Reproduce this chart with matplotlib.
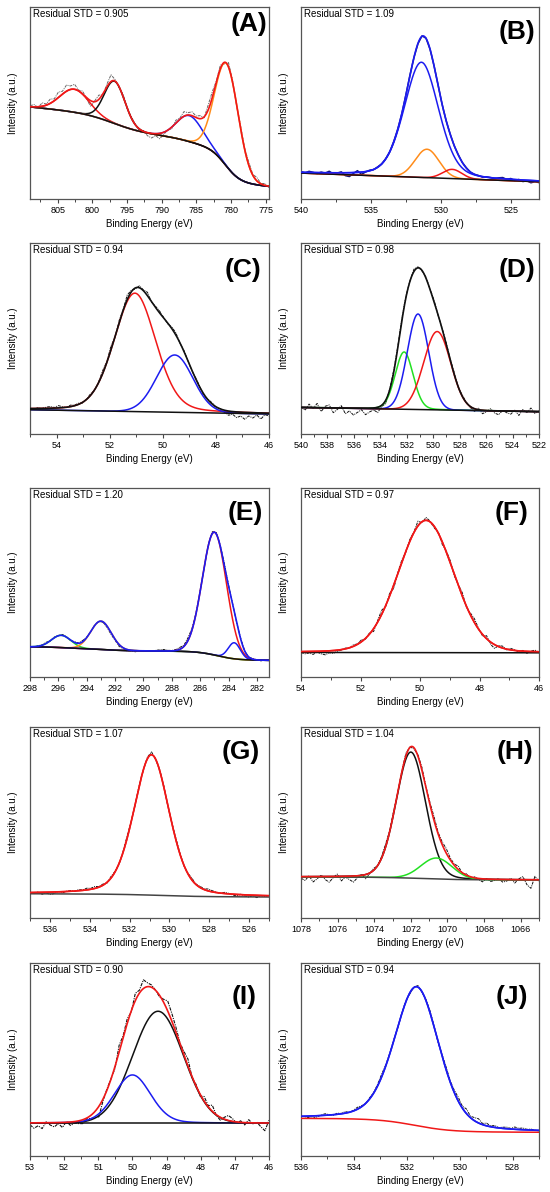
import numpy as np
import matplotlib
matplotlib.use("Agg")
import matplotlib.pyplot as plt
from matplotlib.ticker import AutoMinorLocator

plt.rcParams['font.family'] = ['Liberation Sans', 'DejaVu Sans']

# ---------------- data ----------------
# peaks: centre (eV), height above background (% of frame), FWHM (eV), lorentz fraction
# background: value at low-BE edge, linear rise over window, steps (centre, height, width)

# (A)
a_xlim = (809, 774.5)
a_ticks = [805, 800, 795, 790, 785, 780, 775]
a_std = "0.905"
a_centers = [802.6, 796.8, 786.0, 780.6]
a_heights = [12, 22, 13.5, 53.5]
a_fwhm = [4.9, 3.5, 4.4, 4.0]
a_eta = [0, 0, 0, 0]
a_bg_end = 6.5
a_bg_slope = 12
a_bg_steps = [(780.8, 18, 1.1), (786.0, 3, 1.5), (797.0, 8.5, 2.2)]
a_resid = [0.5, 1.2, -0.4, 1.8, 0.6, 2.2, 1.0, 2.8, 1.5,
           3.2, 1.8, 2.6, 0.4, 1.5, -0.8, -3.0, 0.5, 2.2,
           -0.6, 1.4, 3.5, 0.8, -0.5, 1.2, -0.3, 0.6, 0.2,
           -0.8, 0.4, -1.6, -2.4, -1.0, -2.8, -1.2, 0.3, -0.9,
           1.5, 0.6, 2.4, 1.2, 2.0, 0.8, 1.6, -0.5, 2.6,
           3.0, 0.6, 1.8, -0.8, 2.2, 1.0, -0.4, 1.2, 0.5,
           1.6, 0.4, 1.8, 0.2, 1.0, -0.6]

# (B)
b_xlim = (540, 523)
b_ticks = [540, 535, 530, 525]
b_std = "1.09"
b_centers = [531.4, 531.0, 529.2]
b_heights = [60, 14.8, 4.8]
b_fwhm = [2.9, 2.0, 1.6]
b_eta = [0.25, 0, 0]
b_bg_end = 9.0
b_bg_slope = 4.5
b_bg_steps = []
b_resid = [0.4, -0.3, 0.6, 0.1, -0.5, 0.3, -0.2, 0.8, -0.6, -0.1,
           0.5, -1.5, -2.0, -0.4, 0.9, -1.2, -0.2, 0.3, -0.1, 0.2,
           0.0, 0.1, -0.1, 0.2, 0.0, -0.2, 0.1, 0.3, 0.0, -0.2,
           0.2, 0.1, -0.1, 0.0, 0.2, -0.1, 0.0, 0.1, -0.2, 0.1,
           0.0, 0.2, -0.1, 0.0, 0.1, -0.3, 0.2, 0.0, -0.4, 0.3,
           0.6, -0.2, 0.4, -0.6, 0.2, -0.8, -0.3, -1.2, -0.5, -0.9]

# (C)
c_xlim = (55, 46)
c_ticks = [54, 52, 50, 48, 46]
c_std = "0.94"
c_centers = [51.05, 49.55]
c_heights = [62, 30]
c_fwhm = [1.85, 1.6]
c_eta = [0.2, 0]
c_bg_end = 10.5
c_bg_slope = 2.2
c_bg_steps = []
c_resid = [0.2, -0.3, 0.4, 0.0, 0.6, 0.9, 0.3, 1.2, 0.5, -0.2,
           0.8, 0.3, 0.6, -0.4, 0.2, 0.8, -0.3, 0.5, 1.5, 0.4,
           2.0, -0.5, 1.2, 0.3, 2.4, 0.8, -0.6, 1.0, 0.4, 1.8,
           -0.2, 0.6, 1.0, 0.3, -0.4, 0.8, 1.2, -0.2, 0.5, 0.0,
           -0.4, 0.6, 0.2, -0.8, 0.3, 0.6, -0.5, 0.2, -1.0, -2.2,
           -1.4, -3.0, -2.0, -3.6, -1.8, -2.8, -1.2, -3.2, -0.8, -1.5]

# (D)
d_xlim = (540, 522)
d_ticks = list(range(540, 521, -2))
d_std = "0.98"
d_centers = [532.2, 531.15, 529.7]
d_heights = [30, 50, 41]
d_fwhm = [1.6, 1.9, 2.4]
d_eta = [0.1, 0, 0]
d_bg_end = 11.7
d_bg_slope = 2.2
d_bg_steps = []
d_resid = [0.5, -1.5, 1.8, -0.5, 2.2, -2.0, 0.8, 1.5, -2.5, -0.8,
           1.2, -3.0, -1.5, -3.6, -2.2, -0.8, -3.4, -2.0, -1.0, -2.8,
           -0.6, -1.8, 0.4, 1.0, 0.6, 1.4, 0.8, 0.3, 1.2, 0.5,
           -0.3, 0.6, 0.2, 0.9, -0.2, 0.4, 0.8, 0.3, 1.0, -0.3,
           0.6, 0.2, -0.5, -1.4, 0.8, -1.8, -0.6, 1.0, -1.2, -2.0,
           0.3, -0.9, -1.6, 0.5, -2.2, 0.9, -0.6, 1.8, -1.0, 0.4]

# (E)
e_xlim = (298, 281.15)
e_ticks = list(range(298, 281, -2))
e_std = "1.20"
e_centers = [295.8, 293.0, 285.0, 283.6]
e_heights = [6.5, 15, 65, 8.5]
e_fwhm = [1.6, 1.7, 2.0, 1.0]
e_eta = [0, 0, 0, 0]
e_bg_end = 8.8
e_bg_slope = 0.8
e_bg_steps = [(284.8, 4.6, 0.7), (293.0, 1.2, 0.8), (295.8, 0.6, 0.6)]
e_resid = [0.2, -0.4, 0.3, 0.1, 0.6, -0.2, 0.4, 0.0, 0.5, 0.2,
           -0.3, 0.4, 0.1, 0.6, 0.2, -0.2, 0.3, 0.0, -0.3, -0.6,
           -0.9, -0.5, -1.0, -0.4, -0.8, -0.3, -0.6, 0.0, -0.4, 0.2,
           -0.2, 0.3, 0.6, 0.8, 0.4, 0.2, 0.5, 1.0, 0.6, 1.4,
           0.8, 0.3, 0.6, -0.2, 0.4, 1.0, 0.8, 0.5, 1.2, 0.6,
           0.2, -0.3, 0.4, 0.1, -0.2, 0.3, 0.0, -0.4, 0.2, 0.0]

# (F)
f_xlim = (54, 46)
f_ticks = [54, 52, 50, 48, 46]
f_std = "0.97"
f_centers = [49.8]
f_heights = [70]
f_fwhm = [2.2]
f_eta = [0.1]
f_bg_end = 12.8
f_bg_slope = 0.2
f_bg_steps = []
f_resid = [-0.5, -1.2, -0.8, -1.6, -0.4, -1.4, -2.0, -1.0, -1.5, -0.6,
           -0.2, 0.4, -0.3, 0.8, 0.2, 1.0, -0.4, 0.6, -1.5, 0.8,
           2.2, -0.5, 1.4, -1.8, 0.6, 1.2, -0.4, 1.0, 0.3, 2.5,
           -0.6, 1.5, 0.4, -1.0, 0.8, -1.4, 0.6, 1.2, -0.8, 0.5,
           1.8, -0.6, 1.0, 2.0, 0.4, -0.8, 1.6, -1.2, -2.0, 0.6,
           1.0, -0.4, 0.8, 0.3, -0.6, 0.4, -1.0, 0.2, 0.8, -0.3]

# (G)
g_xlim = (537, 525)
g_ticks = [536, 534, 532, 530, 528, 526]
g_std = "1.07"
g_centers = [530.9]
g_heights = [73.5]
g_fwhm = [2.1]
g_eta = [0.3]
g_bg_end = 11.0
g_bg_slope = 0.5
g_bg_steps = [(530.5, 1.2, 1.0)]
g_resid = [0.3, -0.6, 0.2, -1.0, -0.4, -1.2, -0.8, 0.2, -0.6, 0.1,
           0.4, -0.2, 0.6, 0.2, 0.9, 0.5, 1.0, 0.3, 0.6, -0.4,
           0.8, 0.3, -0.5, 0.4, 1.2, 0.2, -0.3, 0.5, 0.0, 0.8,
           1.5, -0.2, 0.4, 0.6, -0.3, 0.2, 0.8, 0.5, -0.4, 0.3,
           0.9, 0.2, 0.6, 0.4, 1.0, 0.6, 0.2, -0.2, 0.6, 0.3,
           -0.4, -0.8, 0.2, -0.6, -1.0, -0.3, -1.2, 0.0, -0.5, 0.2]

# (H)
h_xlim = (1078, 1065)
h_ticks = list(range(1078, 1065, -2))
h_std = "1.04"
h_centers = [1072.0, 1070.6]
h_heights = [66, 11]
h_fwhm = [1.9, 2.0]
h_eta = [0.1, 0]
h_bg_end = 19.9
h_bg_slope = 0.3
h_bg_steps = [(1071.5, 1.3, 1.0)]
h_resid = [-0.8, -2.0, 0.4, -2.8, -1.2, 0.8, -1.6, -3.0, -0.6, 1.2,
           -2.4, -0.4, -1.8, -3.2, -1.0, 0.6, -2.2, -0.5, 1.0, -0.2,
           0.8, 1.5, 0.4, 1.2, -0.5, 0.6, 1.4, 0.3, -0.6, 0.8,
           1.6, 0.5, 1.2, 2.0, 0.8, 1.4, 2.4, 1.0, 0.6, 1.8,
           -0.4, 0.8, -1.0, 0.6, -0.5, -1.6, 0.2, -1.2, -0.6, 0.4,
           -1.4, -0.8, 0.6, -1.8, 0.4, 1.6, -2.6, -4.5, 1.8, -1.0]

# (I)
i_xlim = (53, 46)
i_ticks = [53, 52, 51, 50, 49, 48, 47, 46]
i_std = "0.90"
i_centers = [49.25, 50.0]
i_heights = [58, 25]
i_fwhm = [1.75, 1.25]
i_eta = [0, 0.15]
i_bg_end = 17.0
i_bg_slope = 0.0
i_bg_steps = []
i_resid = [-1.0, -2.8, -1.5, -3.0, 0.5, -1.2, -2.2, -0.5, -2.6, 0.4,
           -1.8, -0.8, -1.4, -2.0, -0.4, -1.6, -3.2, -5.4, -1.0, 0.6,
           0.2, -1.0, 3.5, 1.0, 2.4, -0.6, 3.8, 1.5, 4.5, 2.0,
           1.2, 0.0, -0.8, 1.6, 5.2, 4.0, 2.6, 0.4, 1.8, 3.6,
           -0.5, 0.8, -1.0, 2.4, 0.6, 3.2, -0.4, -1.5, 1.0, 2.6,
           1.4, -0.6, 0.8, -1.2, 1.6, -0.5, 0.4, -2.0, -4.0, 1.5]

# (J)
j_xlim = (536, 527)
j_ticks = [536, 534, 532, 530, 528]
j_std = "0.94"
j_centers = [531.62]
j_heights = [72]
j_fwhm = [2.0]
j_eta = [0.3]
j_bg_end = 12.3
j_bg_slope = 0.3
j_bg_steps = [(531.7, 6.9, 0.7)]
j_resid = [0.2, -0.4, -0.8, -1.2, -0.6, 0.3, 0.8, 0.2, -0.3, 0.6,
           0.2, 0.8, -0.2, 0.4, 1.0, 0.5, -0.2, 0.6, 0.3, 0.8,
           1.4, 0.6, 0.2, 0.5, -0.4, 0.3, 0.6, -0.6, 0.2, 0.8,
           -0.3, 0.5, 1.0, 0.4, -0.5, 0.8, 1.4, 0.6, 1.2, 2.0,
           1.0, 2.4, 0.8, 1.6, 2.2, 0.6, 1.4, 0.4, 1.0, 0.2,
           0.6, 0.8, 0.3, 1.2, 0.6, 0.9, 0.3, 0.5, 0.0, -0.2]

# ---------------- styles ----------------
RED = '#f01818'
BLUE = '#1c1cf0'
ORANGE = '#ff8c1a'
GREEN = '#22e022'
BLACK = '#111111'
DASHDOT = (0, (3, 1, 1, 1))

panels = [
    dict(tag='A', xlim=a_xlim, ticks=a_ticks, std=a_std, c=a_centers, h=a_heights, w=a_fwhm, eta=a_eta,
         bg=(a_bg_end, a_bg_slope, a_bg_steps), res=a_resid,
         comp=[RED, BLACK, BLUE, ORANGE], env=RED, bgc=BLACK, data=('#666666', DASHDOT, 0.7),
         lab=(0.995, 0.975)),
    dict(tag='B', xlim=b_xlim, ticks=b_ticks, std=b_std, c=b_centers, h=b_heights, w=b_fwhm, eta=b_eta,
         bg=(b_bg_end, b_bg_slope, b_bg_steps), res=b_resid,
         comp=[BLUE, ORANGE, RED], env=BLUE, bgc=BLACK, data=('#141470', '-', 1.1),
         lab=(0.985, 0.93)),
    dict(tag='C', xlim=c_xlim, ticks=c_ticks, std=c_std, c=c_centers, h=c_heights, w=c_fwhm, eta=c_eta,
         bg=(c_bg_end, c_bg_slope, c_bg_steps), res=c_resid,
         comp=[RED, BLUE], env=BLACK, bgc=BLACK, data=(BLACK, DASHDOT, 0.7),
         lab=(0.97, 0.92)),
    dict(tag='D', xlim=d_xlim, ticks=d_ticks, std=d_std, c=d_centers, h=d_heights, w=d_fwhm, eta=d_eta,
         bg=(d_bg_end, d_bg_slope, d_bg_steps), res=d_resid,
         comp=[GREEN, BLUE, RED], env=BLACK, bgc=BLACK, data=(BLACK, DASHDOT, 0.7),
         lab=(0.985, 0.92)),
    dict(tag='E', xlim=e_xlim, ticks=e_ticks, std=e_std, c=e_centers, h=e_heights, w=e_fwhm, eta=e_eta,
         bg=(e_bg_end, e_bg_slope, e_bg_steps), res=e_resid,
         comp=[GREEN, ORANGE, RED, BLUE], env=BLUE, bgc=BLACK, data=(BLACK, DASHDOT, 0.7),
         lab=(0.975, 0.93)),
    dict(tag='F', xlim=f_xlim, ticks=f_ticks, std=f_std, c=f_centers, h=f_heights, w=f_fwhm, eta=f_eta,
         bg=(f_bg_end, f_bg_slope, f_bg_steps), res=f_resid,
         comp=[RED], env=RED, bgc=BLACK, data=(BLACK, DASHDOT, 0.7),
         lab=(0.955, 0.93)),
    dict(tag='G', xlim=g_xlim, ticks=g_ticks, std=g_std, c=g_centers, h=g_heights, w=g_fwhm, eta=g_eta,
         bg=(g_bg_end, g_bg_slope, g_bg_steps), res=g_resid,
         comp=[RED], env=RED, bgc='#444444', data=(BLACK, DASHDOT, 0.7),
         lab=(0.96, 0.93)),
    dict(tag='H', xlim=h_xlim, ticks=h_ticks, std=h_std, c=h_centers, h=h_heights, w=h_fwhm, eta=h_eta,
         bg=(h_bg_end, h_bg_slope, h_bg_steps), res=h_resid,
         comp=[BLACK, GREEN], env=RED, bgc='#444444', data=(BLACK, DASHDOT, 0.7),
         lab=(0.975, 0.93)),
    dict(tag='I', xlim=i_xlim, ticks=i_ticks, std=i_std, c=i_centers, h=i_heights, w=i_fwhm, eta=i_eta,
         bg=(i_bg_end, i_bg_slope, i_bg_steps), res=i_resid,
         comp=[BLACK, BLUE], env=RED, bgc=BLACK, data=(BLACK, DASHDOT, 0.8),
         lab=(0.95, 0.885)),
    dict(tag='J', xlim=j_xlim, ticks=j_ticks, std=j_std, c=j_centers, h=j_heights, w=j_fwhm, eta=j_eta,
         bg=(j_bg_end, j_bg_slope, j_bg_steps), res=j_resid,
         comp=[BLUE], env=BLUE, bgc=RED, data=(BLACK, DASHDOT, 0.7),
         lab=(0.955, 0.885)),
]


def pseudo_voigt(x, c, h, fwhm, eta):
    u = (x - c) / fwhm
    gauss = np.exp(-4 * np.log(2) * u ** 2)
    lorentz = 1 / (1 + 4 * u ** 2)
    return h * ((1 - eta) * gauss + eta * lorentz)


def background(x, xlim, params):
    end, slope, steps = params
    xl, xr = max(xlim), min(xlim)
    y = end + slope * (x - xr) / (xl - xr)
    for c, h, w in steps:
        y = y + h / (1 + np.exp(-(x - c) / w))
    return y


def model(x, p):
    bg = background(x, p['xlim'], p['bg'])
    comps = [pseudo_voigt(x, c, h, w, e) for c, h, w, e in zip(p['c'], p['h'], p['w'], p['eta'])]
    return bg, comps


# pixel boxes on a 550 x 1192 canvas
W, H = 550, 1192
cols = [(30, 269), (301, 539)]
rows = [(7, 199), (243, 434), (488, 677), (727, 918), (963, 1156)]

fig = plt.figure(figsize=(W / 100, H / 100), dpi=100)

for k, p in enumerate(panels):
    x0, x1 = cols[k % 2]
    y0, y1 = rows[k // 2]
    ax = fig.add_axes([x0 / W, 1 - y1 / H, (x1 - x0) / W, (y1 - y0) / H])

    x = np.linspace(p['xlim'][0], p['xlim'][1], 600)
    bg, comps = model(x, p)
    env = bg + sum(comps)

    # measured spectrum = fit + read residuals
    xd = np.linspace(p['xlim'][0], p['xlim'][1], len(p['res']))
    bgd, compd = model(xd, p)
    yd = bgd + sum(compd) + np.array(p['res'])
    dcol, dls, dlw = p['data']
    ax.plot(xd, yd, color=dcol, ls=dls, lw=dlw, zorder=1)

    for comp, col in zip(comps, p['comp']):
        ax.plot(x, bg + comp, color=col, lw=1.1, zorder=2)
    ax.plot(x, bg, color=p['bgc'], lw=1.1, zorder=3)
    ax.plot(x, env, color=p['env'], lw=1.2, zorder=4)

    ax.set_xlim(p['xlim'])
    ax.set_ylim(0, 100)
    ax.set_xticks(p['ticks'])
    ax.xaxis.set_minor_locator(AutoMinorLocator(2))
    ax.set_yticks([])
    ax.tick_params(axis='x', which='major', direction='out', length=3, width=0.8,
                   labelsize=6.5, pad=2, color='#444444')
    ax.tick_params(axis='x', which='minor', direction='out', length=1.8, width=0.7, color='#444444')
    for s in ax.spines.values():
        s.set_color('#555555')
        s.set_linewidth(0.9)

    ax.set_xlabel('Binding Energy (eV)', fontsize=7, labelpad=3)
    ax.set_ylabel('Intensity (a.u.)', fontsize=7)
    ax.yaxis.set_label_coords(-0.05, 0.5)

    ax.text(0.012, 0.988, 'Residual STD = ' + p['std'], transform=ax.transAxes,
            ha='left', va='top', fontsize=7)
    lx, ly = p['lab']
    ax.text(lx, ly, '(' + p['tag'] + ')', transform=ax.transAxes,
            ha='right', va='top', fontsize=19, fontweight='bold')

fig.savefig('out.png', dpi=100)
